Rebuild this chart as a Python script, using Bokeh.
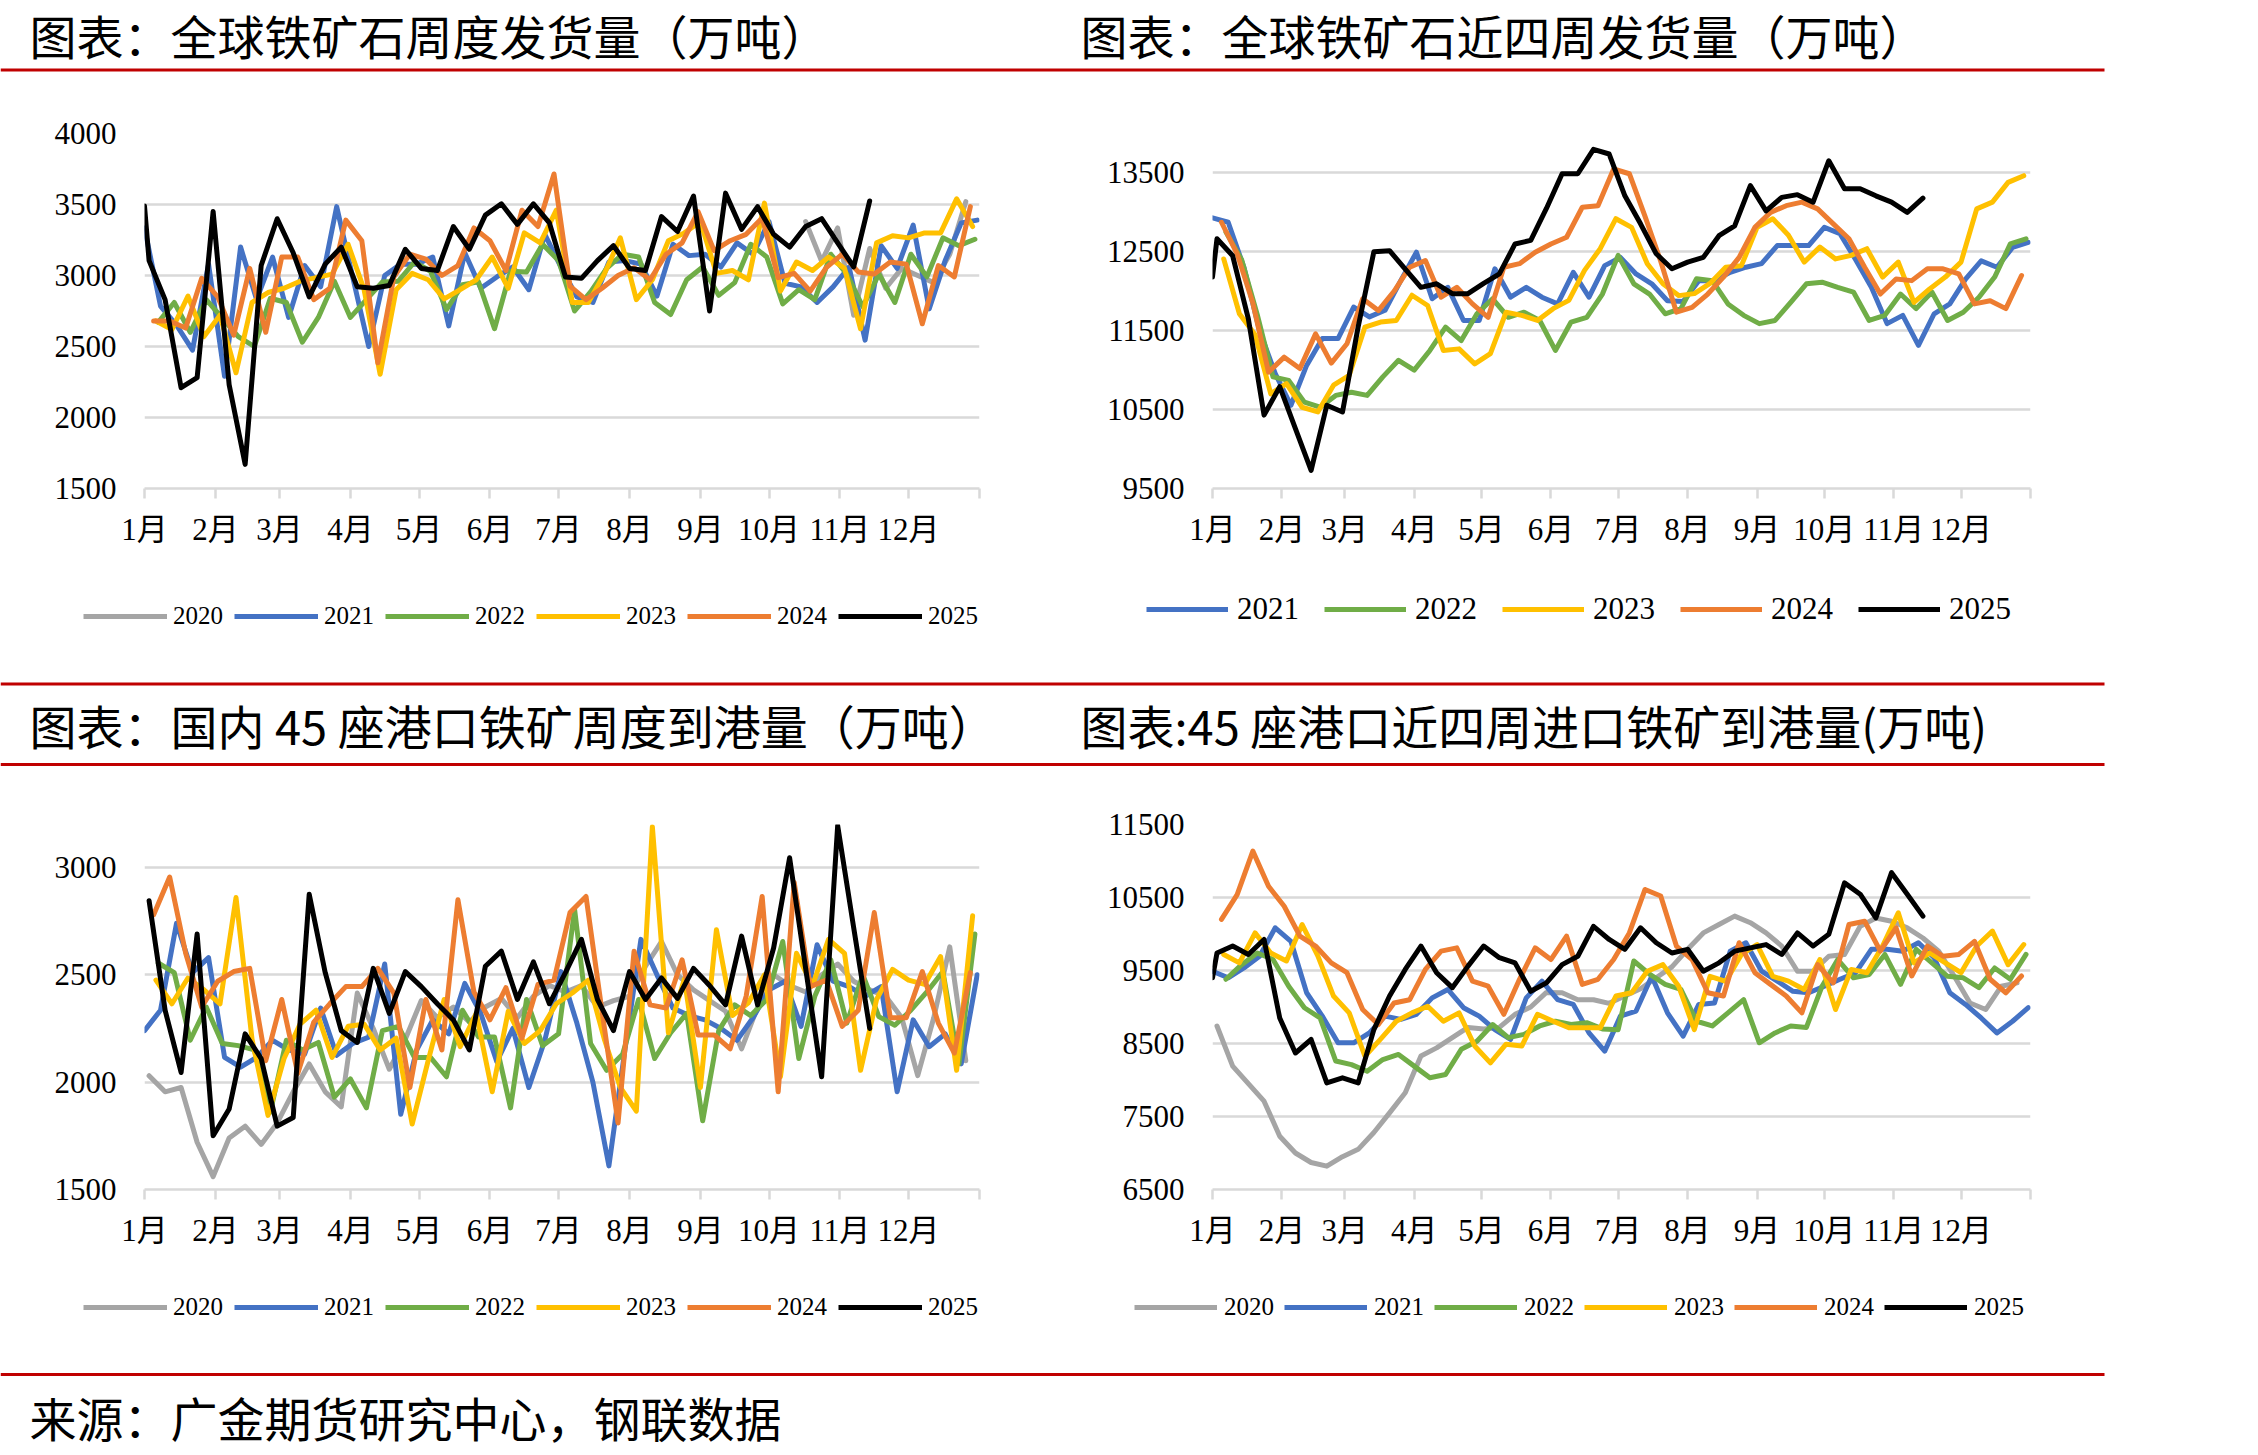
from bokeh.plotting import figure
from bokeh.models import Range1d, FixedTicker, Legend, LegendItem, Label, BoxAnnotation
from bokeh.layouts import row, column
from bokeh.embed import file_html
from bokeh.resources import INLINE

# ---------------- data ----------------
years = ["2020", "2021", "2022", "2023", "2024", "2025"]
# day-of-year of each year's first weekly observation
first_day = {"2020": 2, "2021": 0, "2022": 6, "2023": 5, "2024": 4, "2025": 2}
month_start_days = [0, 31, 59, 90, 120, 151, 181, 212, 243, 273, 304, 334, 365]
month_labels = ["1月", "2月", "3月", "4月", "5月", "6月", "7月", "8月", "9月", "10月", "11月", "12月", ""]

titles = {
    "tl": "图表：全球铁矿石周度发货量（万吨）",
    "tr": "图表：全球铁矿石近四周发货量（万吨）",
    "bl": "图表：国内 45 座港口铁矿周度到港量（万吨）",
    "br": "图表:45 座港口近四周进口铁矿到港量(万吨)",
}
source_text = "来源：广金期货研究中心，钢联数据"

# 全球铁矿石周度发货量 (2020 only from week 42)
tl_2020 = [3380, 3100, 3335, 2720, 3190, 2910, 3050, 3000, 2950, 3150, 3520]
tl_2020_start_week = 41
tl_2021 = [3335, 2785, 2650, 2475, 3080, 2290, 3200, 2830, 3130, 2705, 3070, 2920, 3485, 2990, 2500, 3000, 3080, 3080,
           3130, 2645, 3160, 2910, 2990, 3060, 2900, 3290, 3060, 2850, 2810, 3095, 3105, 3080, 2855, 3220, 3140, 3150,
           3060, 3230, 3150, 3380, 2945, 2920, 2810, 2920, 3060, 2545, 3210, 3050, 3355, 2765, 3105, 3370, 3390]
tl_2022 = [2670, 2810, 2600, 2830, 2700, 2570, 2500, 2840, 2810, 2530, 2705, 2960, 2705, 2830, 2955, 2960, 3095, 3030,
           2760, 2935, 2955, 2625, 3030, 3025, 3220, 3105, 2750, 2885, 3050, 3150, 3130, 2810, 2725, 2970, 3060, 2860,
           2950, 3220, 3130, 2800, 2900, 2830, 3150, 3010, 2780, 3010, 2810, 3150, 2990, 3265, 3210, 3255]
tl_2023 = [2680, 2620, 2855, 2570, 2720, 2315, 2810, 2880, 2910, 2960, 2985, 3010, 3220, 2900, 2305, 2900, 3015, 2970,
           2835, 2900, 2970, 3130, 2910, 3300, 3230, 3460, 2810, 2810, 3010, 3265, 2830, 2970, 3245, 3300, 3380, 3015,
           3035, 2970, 3510, 2890, 3095, 3035, 3130, 3050, 2625, 3230, 3280, 3265, 3300, 3300, 3540, 3345]
tl_2024 = [2680, 2680, 2630, 2980, 2850, 2580, 3050, 2600, 3130, 3130, 2830, 2910, 3390, 3245, 2385, 2990, 3150, 3115,
           3000, 3070, 3335, 3245, 3035, 3460, 3345, 3715, 2925, 2830, 2910, 3000, 3055, 2970, 3150, 3230, 3450, 3175,
           3245, 3290, 3405, 2985, 3015, 2890, 3055, 3150, 3025, 3010, 3095, 3080, 2660, 3070, 2990, 3485]
# 2025 series begin with a 1 January reading
tl_2025 = [3490, 3105, 2830, 2210, 2280, 3450, 2230, 1670, 3070, 3400, 3160, 2850, 3080, 3200, 2920, 2910, 2930, 3185,
           3050, 3035, 3345, 3185, 3425, 3505, 3360, 3505, 3370, 2990, 2980, 3105, 3210, 3050, 3035, 3415, 3310, 3560,
           2750, 3580, 3325, 3485, 3290, 3200, 3345, 3400, 3230, 3060, 3525]

# 全球铁矿石近四周发货量
tr_2021 = [12930, 12875, 12305, 11500, 10955, 10555, 11060, 11400, 11400, 11800, 11675, 11760, 12135, 12495, 11905,
           12050, 11630, 11630, 12285, 11925, 12050, 11925, 11840, 12240, 11925, 12325, 12430, 12220, 12095, 11880,
           11870, 12135, 12135, 12240, 12305, 12350, 12580, 12580, 12580, 12810, 12730, 12400, 12050, 11590, 11695,
           11315, 11715, 11840, 12155, 12385, 12305, 12555, 12620]
tr_2022 = [12750, 12400, 11700, 10915, 10870, 10595, 10530, 10680, 10720, 10680, 10915, 11125, 11000, 11250, 11545,
           11375, 11715, 11905, 11670, 11735, 11630, 11250, 11610, 11670, 11965, 12455, 12095, 11965, 11715, 11780,
           12160, 12135, 11840, 11695, 11590, 11630, 11860, 12095, 12115, 12050, 11990, 11630, 11695, 11965, 11780,
           11990, 11630, 11735, 11925, 12180, 12600, 12665]
tr_2023 = [12410, 11715, 11450, 10700, 10830, 10530, 10470, 10810, 10935, 11545, 11610, 11630, 11950, 11820, 11250,
           11270, 11080, 11210, 11735, 11695, 11630, 11780, 11885, 12265, 12540, 12920, 12810, 12350, 12095, 11945,
           11970, 12100, 12305, 12325, 12810, 12920, 12710, 12370, 12560, 12410, 12455, 12540, 12180, 12370, 11860,
           12030, 12180, 12370, 13045, 13130, 13380, 13465]
tr_2024 = [12875, 12475, 11850, 10975, 11165, 11020, 11460, 11090, 11335, 11905, 11755, 12000, 12305, 12390, 11925,
           12050, 11840, 11670, 12305, 12350, 12495, 12600, 12685, 13065, 13085, 13550, 13490, 12950, 12380, 11735,
           11795, 11965, 12180, 12430, 12810, 13000, 13085, 13130, 13045, 12855, 12665, 12305, 11965, 12155, 12135,
           12285, 12285, 12220, 11840, 11880, 11780, 12200]
tr_2025 = [12180, 12665, 12450, 11650, 10430, 10790, 10260, 9730, 10555, 10470, 11550, 12500, 12515, 12280, 12050,
           12095, 11970, 11970, 12100, 12220, 12600, 12645, 13050, 13490, 13490, 13800, 13740, 13210, 12855, 12475,
           12285, 12370, 12430, 12705, 12830, 13340, 13020, 13190, 13225, 13130, 13655, 13300, 13300, 13210, 13130,
           13000, 13180]

# 国内45座港口铁矿周度到港量
bl_2020 = [2030, 1955, 1975, 1720, 1560, 1740, 1795, 1710, 1810, 1955, 2085, 1955, 1885, 2415, 2250, 2060, 2200, 2380,
           2300, 2350, 2280, 2350, 2390, 2300, 2400, 2450, 2420, 2450, 2350, 2380, 2400, 2540, 2655, 2500, 2430, 2380,
           2330, 2155, 2350, 2500, 2450, 2420, 2500, 2550, 2470, 2430, 2400, 2300, 2030, 2300, 2630, 2100]
bl_2021 = [2240, 2335, 2740, 2510, 2580, 2115, 2070, 2115, 2195, 2150, 2130, 2345, 2125, 2180, 2210, 2550, 1850, 2150,
           2290, 2225, 2460, 2320, 2095, 2250, 1975, 2195, 2515, 2275, 2000, 1610, 2150, 2665, 2500, 2345, 2310, 2290,
           2250, 2195, 2300, 2430, 2470, 2260, 2640, 2470, 2445, 2400, 2445, 1955, 2290, 2165, 2225, 2085, 2500]
bl_2022 = [2555, 2510, 2195, 2350, 2180, 2170, 2150, 1860, 2195, 2150, 2185, 1930, 2015, 1880, 2240, 2260, 2115, 2115,
           2025, 2335, 2210, 2210, 1880, 2385, 2170, 2225, 2805, 2180, 2055, 2130, 2385, 2110, 2230, 2320, 1820, 2240,
           2360, 2310, 2385, 2655, 2110, 2400, 2570, 2275, 2500, 2305, 2265, 2335, 2420, 2515, 2085, 2690]
bl_2023 = [2475, 2365, 2485, 2430, 2365, 2860, 2200, 1845, 2110, 2270, 2335, 2115, 2260, 2270, 2150, 2205, 1805, 2100,
           2385, 2165, 2320, 1955, 2330, 2180, 2240, 2365, 2415, 2475, 2200, 1975, 1865, 3190, 2230, 2480, 1975, 2710,
           2310, 2370, 2500, 2025, 2600, 2450, 2665, 2600, 2055, 2385, 2525, 2475, 2455, 2585, 2055, 2775]
bl_2024 = [2780, 2955, 2600, 2350, 2470, 2515, 2530, 2100, 2385, 2040, 2280, 2365, 2445, 2445, 2530, 2415, 1975, 2385,
           2150, 2850, 2420, 2290, 2440, 2205, 2455, 2475, 2790, 2865, 2330, 1810, 2610, 2360, 2345, 2570, 2220, 2220,
           2155, 2400, 2865, 1955, 2930, 2445, 2475, 2260, 2335, 2790, 2300, 2300, 2515, 2275, 2135, 2510]
bl_2025 = [2845, 2335, 2045, 2690, 1750, 1875, 2225, 2110, 1795, 1835, 2875, 2510, 2240, 2185, 2530, 2320, 2515, 2445,
           2365, 2290, 2150, 2540, 2610, 2385, 2560, 2365, 2510, 2665, 2385, 2240, 2515, 2385, 2485, 2390, 2530, 2450,
           2360, 2680, 2360, 2625, 3045, 2530, 2025, 3195, 2720, 2250]

# 45座港口近四周进口铁矿到港量
br_2020 = [8740, 8190, 7950, 7710, 7230, 7000, 6870, 6820, 6950, 7050, 7280, 7550, 7825, 8330, 8440, 8580, 8720, 8700,
           8720, 8900, 9000, 9200, 9195, 9100, 9100, 9050, 9150, 9250, 9400, 9550, 9790, 10015, 10130, 10245, 10155,
           10015, 9835, 9490, 9490, 9695, 9720, 10105, 10220, 10175, 10085, 9945, 9765, 9420, 9055, 8965, 9285, 9330]
br_2021 = [9490, 9400, 9535, 9695, 10085, 9900, 9195, 8875, 8510, 8510, 8645, 8875, 8830, 8900, 9125, 9240, 8990, 8875,
           8690, 8555, 9125, 9355, 9100, 9035, 8645, 8395, 8875, 8945, 9420, 8920, 8600, 9035, 9055, 9765, 9880, 9490,
           9355, 9215, 9195, 9285, 9380, 9470, 9790, 9790, 9765, 9880, 9675, 9195, 9035, 8850, 8645, 8805, 8990]
br_2022 = [9380, 9580, 9740, 9650, 9285, 8990, 8850, 8260, 8210, 8120, 8280, 8350, 8190, 8030, 8075, 8420, 8530, 8760,
           8580, 8625, 8740, 8805, 8760, 8785, 8700, 8690, 9630, 9450, 9310, 9240, 8805, 8740, 8920, 9100, 8510, 8645,
           8740, 8720, 9285, 9650, 9400, 9445, 9720, 9310, 9790, 9605, 9420, 9400, 9265, 9535, 9380, 9720]
br_2023 = [9720, 9605, 10015, 9740, 9630, 10130, 9700, 9150, 8920, 8325, 8560, 8805, 8920, 9010, 8805, 8920, 8465,
           8235, 8490, 8465, 8900, 8805, 8715, 8715, 8715, 9150, 9195, 9490, 9580, 9285, 8690, 9420, 9350, 9720, 9855,
           9420, 9355, 9240, 9650, 8965, 9515, 9470, 9835, 10290, 9605, 9740, 9605, 9470, 9835, 10040, 9580, 9855]
br_2024 = [10200, 10540, 11135, 10655, 10380, 9970, 9835, 9605, 9470, 8965, 8760, 9055, 9100, 9515, 9765, 9810, 9355,
           9285, 8900, 9380, 9810, 9650, 9970, 9310, 9380, 9650, 10015, 10610, 10520, 9835, 9650, 9195, 9150, 9880,
           9470, 9310, 9150, 8920, 9580, 9330, 10130, 10175, 9765, 10085, 9425, 9835, 9695, 9720, 9900, 9380, 9195,
           9425]
br_2025 = [9400, 9740, 9835, 9720, 9925, 8850, 8370, 8555, 7960, 8030, 7960, 8690, 9150, 9515, 9835, 9470, 9265, 9560,
           9835, 9675, 9605, 9215, 9330, 9580, 9695, 10105, 9925, 9790, 10085, 9880, 9740, 9790, 9490, 9605, 9765,
           9810, 9855, 9720, 10015, 9835, 9995, 10700, 10545, 10220, 10840, 10545, 10245]

# ---------------- styles ----------------
COLORS = {"2020": "#A5A5A5", "2021": "#4472C4", "2022": "#70AD47", "2023": "#FFC000", "2024": "#ED7D31", "2025": "#000000"}
GRID = "#D9D9D9"
RED = "#C00000"
SERIF = "'Liberation Serif', 'Noto Sans CJK SC'"
CJK = "Noto Sans CJK SC"
LW = 5
W = 2258
NAN = float("nan")


def week_days(year, n, start_week=0, jan1=False):
    """day-of-year for each weekly observation"""
    if jan1:
        return [0] + [first_day[year] + 7 * (start_week + i) for i in range(n - 1)]
    return [first_day[year] + 7 * (start_week + i) for i in range(n)]


def make_panel(w, h, bl, br, bt, bb, yr, yticks):
    p = figure(width=w, height=h, output_backend="svg", toolbar_location=None,
               x_range=Range1d(0, 365), y_range=Range1d(*yr),
               min_border_left=bl, min_border_right=br, min_border_top=bt, min_border_bottom=bb)
    p.outline_line_color = None
    p.border_fill_color = "white"
    p.background_fill_color = "white"
    xa = p.xaxis[0]
    xa.ticker = FixedTicker(ticks=month_start_days)
    xa.major_label_overrides = {d: lab for d, lab in zip(month_start_days, month_labels)}
    xa.axis_line_color = GRID
    xa.axis_line_width = 2.5
    xa.major_tick_line_color = GRID
    xa.major_tick_line_width = 2.5
    xa.major_tick_out = 10
    xa.major_tick_in = 0
    xa.minor_tick_line_color = None
    xa.major_label_text_font = SERIF
    xa.major_label_text_font_size = "31px"
    xa.major_label_text_color = "#000000"
    xa.major_label_standoff = 13
    ya = p.yaxis[0]
    ya.ticker = FixedTicker(ticks=yticks)
    ya.axis_line_color = None
    ya.major_tick_line_color = None
    ya.minor_tick_line_color = None
    ya.major_tick_out = 0
    ya.major_tick_in = 0
    ya.major_label_text_font = SERIF
    ya.major_label_text_font_size = "31px"
    ya.major_label_text_color = "#000000"
    ya.major_label_standoff = 28
    p.xgrid.visible = False
    p.ygrid.ticker = FixedTicker(ticks=yticks)
    p.ygrid.grid_line_color = GRID
    p.ygrid.grid_line_width = 2.5
    return p


def draw_series(p, series):
    for yr, xs, ys in series:
        p.line(xs, ys, line_color=COLORS[yr], line_width=LW, line_join="round", line_cap="round")


def band(height):
    """strip for titles, rules and legend keys; its coordinates are page pixels"""
    b = figure(width=W, height=height, output_backend="svg", toolbar_location=None,
               x_range=Range1d(0, W), y_range=Range1d(height, 0),
               x_axis_location=None, y_axis_location=None,
               min_border=0, min_border_left=0, min_border_right=0, min_border_top=0, min_border_bottom=0)
    b.outline_line_color = None
    b.grid.visible = False
    b.border_fill_color = "white"
    b.background_fill_color = "white"
    return b


def red_rule(b, y):
    b.add_layout(BoxAnnotation(left=0, right=2104, top=y - 1.5, bottom=y + 1.5,
                               fill_color=RED, fill_alpha=1, line_alpha=0))


def text(b, x, y, s):
    b.add_layout(Label(x=x, y=y, text=s, text_font=CJK, text_font_size="47px", text_color="#000000",
                       text_align="left", text_baseline="middle"))


def legend_keys(b, yrs, loc, font_size, glyph_w, standoff, spacing):
    items = []
    for yr in yrs:
        # key-only renderer: its single point is undefined, so it draws nothing on the strip
        r = b.line(x=[NAN], y=[NAN], line_color=COLORS[yr], line_width=LW)
        items.append(LegendItem(label=yr, renderers=[r]))
    b.add_layout(Legend(items=items, orientation="horizontal", location=loc,
                        glyph_width=glyph_w, glyph_height=26, label_standoff=standoff, spacing=spacing,
                        padding=0, margin=0, border_line_color=None, background_fill_alpha=0,
                        label_text_font=SERIF, label_text_font_size=font_size, label_text_color="#000000"))


# ---------------- header band ----------------
band_a = band(75)
text(band_a, 29, 34, titles["tl"])
text(band_a, 1080, 34, titles["tr"])
red_rule(band_a, 69.5)

# ---------------- top charts ----------------
tl = make_panel(1080, 500, 144, 101, 58, 77, (1500, 4000), [1500, 2000, 2500, 3000, 3500, 4000])
draw_series(tl, [
    ("2020", week_days("2020", len(tl_2020), tl_2020_start_week), tl_2020),
    ("2021", week_days("2021", len(tl_2021)), tl_2021),
    ("2022", week_days("2022", len(tl_2022)), tl_2022),
    ("2023", week_days("2023", len(tl_2023)), tl_2023),
    ("2024", week_days("2024", len(tl_2024)), tl_2024),
    ("2025", week_days("2025", len(tl_2025), jan1=True), tl_2025),
])
tr = make_panel(1178, 500, 132, 228, 58, 87, (9500, 14000), [9500, 10500, 11500, 12500, 13500])
draw_series(tr, [
    ("2021", week_days("2021", len(tr_2021)), tr_2021),
    ("2022", week_days("2022", len(tr_2022)), tr_2022),
    ("2023", week_days("2023", len(tr_2023)), tr_2023),
    ("2024", week_days("2024", len(tr_2024)), tr_2024),
    ("2025", week_days("2025", len(tr_2025), jan1=True), tr_2025),
])

# ---------------- middle band: legends, rules, titles ----------------
band_b = band(195)
legend_keys(band_b, years, (83, 140), "25px", 84, 6, 11)
legend_keys(band_b, years[1:], (1146, 143), "31px", 82, 9, 25)
red_rule(band_b, 108.5)
text(band_b, 29, 149, titles["bl"])
text(band_b, 1080, 149, titles["br"])
red_rule(band_b, 189)

# ---------------- bottom charts ----------------
bl = make_panel(1080, 490, 144, 101, 54, 71, (1500, 3200), [1500, 2000, 2500, 3000])
draw_series(bl, [
    ("2020", week_days("2020", len(bl_2020)), bl_2020),
    ("2021", week_days("2021", len(bl_2021)), bl_2021),
    ("2022", week_days("2022", len(bl_2022)), bl_2022),
    ("2023", week_days("2023", len(bl_2023)), bl_2023),
    ("2024", week_days("2024", len(bl_2024)), bl_2024),
    ("2025", week_days("2025", len(bl_2025)), bl_2025),
])
br = make_panel(1178, 490, 132, 228, 54, 71, (6500, 11500), [6500, 7500, 8500, 9500, 10500, 11500])
draw_series(br, [
    ("2020", week_days("2020", len(br_2020)), br_2020),
    ("2021", week_days("2021", len(br_2021)), br_2021),
    ("2022", week_days("2022", len(br_2022)), br_2022),
    ("2023", week_days("2023", len(br_2023)), br_2023),
    ("2024", week_days("2024", len(br_2024)), br_2024),
    ("2025", week_days("2025", len(br_2025), jan1=True), br_2025),
])

# ---------------- bottom band: legends, rule, source ----------------
band_c = band(195)
legend_keys(band_c, years, (83, 134), "25px", 84, 6, 11)
legend_keys(band_c, years, (1134, 134), "25px", 83, 7, 10)
red_rule(band_c, 114)
text(band_c, 29, 156, source_text)

page = column(band_a, row(tl, tr), band_b, row(bl, br), band_c)
open("out.html", "w").write(file_html(page, INLINE))
